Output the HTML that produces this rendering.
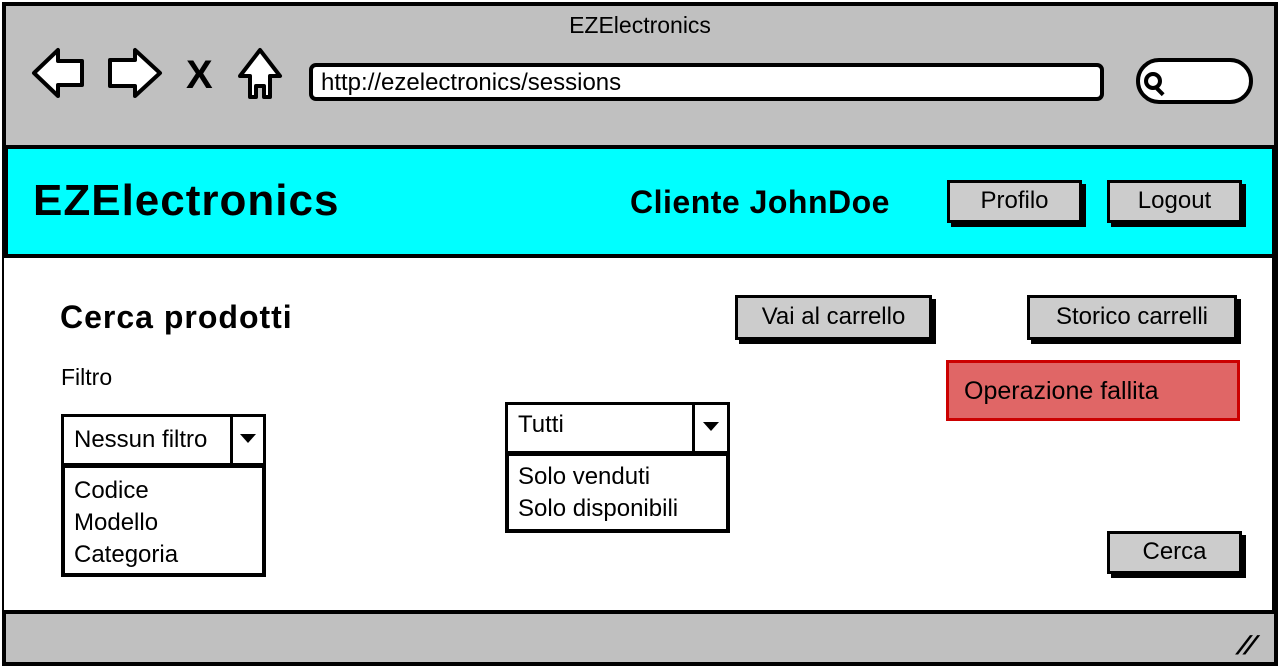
<!DOCTYPE html>
<html><head><meta charset="utf-8"><style>
*{box-sizing:border-box;margin:0;padding:0}
body{width:1280px;height:668px;background:#fff;position:relative;overflow:hidden;font-family:"Liberation Sans",sans-serif;color:#000}
.a{position:absolute}
.btn{position:absolute;background:#ccc;border:3px solid #000;box-shadow:4px 4px 0 #000;font-size:24px;text-align:center}
.box{position:absolute;border:3px solid #000;background:#fff}
</style></head><body>
<div class="a" style="left:2px;top:2px;width:1276px;height:664px;border:4px solid #000;background:#c0c0c0"></div>
<div class="a" style="left:0;top:12px;width:1280px;text-align:center;font-size:23px">EZElectronics</div>
<svg class="a" style="left:0;top:0" width="300" height="110">
<g fill="#fff" stroke="#000" stroke-width="4" stroke-linejoin="round">
<path d="M34,75 L58,52 L58,63 L82,63 L82,87 L58,87 L58,98 Z" transform="translate(0,-2)"/>
<path d="M160,75 L135,52 L135,62 L110,62 L110,88 L135,88 L135,98 Z" transform="translate(0,-2)"/>
<path d="M260,50 L280,76 L270,76 L270,97 L264,97 L264,86 L256,86 L256,97 L250,97 L250,76 L240,76 Z"/>
</g>
<text x="186" y="88" font-size="40" font-weight="bold" font-family="Liberation Sans">X</text>
</svg>
<div class="a" style="left:309px;top:63px;width:795px;height:38px;border:4px solid #000;border-radius:7px;background:#fff;font-size:24px;padding:2px 0 0 8px">http://ezelectronics/sessions</div>
<div class="a" style="left:1136px;top:58px;width:117px;height:46px;border:4px solid #000;border-radius:23px;background:#fff"></div>
<div class="a" style="left:1144px;top:72px;width:18px;height:18px;border:4px solid #000;border-radius:50%"></div>
<div class="a" style="left:1158px;top:87px;width:4px;height:9px;background:#000;transform:rotate(-45deg)"></div>
<div class="a" style="left:4px;top:145px;width:1272px;height:113px;background:#0ff;border:4px solid #000"></div>
<div class="a" style="left:33px;top:176px;font-size:44px;font-weight:bold;letter-spacing:1px">EZElectronics</div>
<div class="a" style="left:630px;top:184px;font-size:32px;font-weight:bold;letter-spacing:0.5px">Cliente JohnDoe</div>
<div class="btn" style="left:947px;top:180px;width:135px;height:43px;line-height:36px">Profilo</div>
<div class="btn" style="left:1107px;top:180px;width:135px;height:43px;line-height:36px">Logout</div>
<div class="a" style="left:4px;top:258px;width:1272px;height:354px;background:#fff;border-right:4px solid #000"></div>
<div class="a" style="left:4px;top:610px;width:1272px;height:4px;background:#000"></div>
<div class="a" style="left:60px;top:299px;font-size:32px;font-weight:bold;letter-spacing:1px">Cerca prodotti</div>
<div class="btn" style="left:735px;top:295px;width:197px;height:45px;line-height:38px">Vai al carrello</div>
<div class="btn" style="left:1027px;top:295px;width:210px;height:45px;line-height:38px">Storico carrelli</div>
<div class="a" style="left:946px;top:360px;width:294px;height:61px;background:#e06666;border:3px solid #c00;font-size:25px;padding:14px 0 0 15px">Operazione fallita</div>
<div class="a" style="left:61px;top:364px;font-size:23px">Filtro</div>
<div class="box" style="left:61px;top:414px;width:205px;height:52px;font-size:24px;padding:9px 0 0 10px">Nessun filtro</div>
<div class="a" style="left:230px;top:414px;width:3px;height:52px;background:#000"></div>
<div class="a" style="left:240px;top:434px;border-left:8px solid transparent;border-right:8px solid transparent;border-top:9px solid #000"></div>
<div class="box" style="left:61px;top:464px;width:205px;height:113px;border-width:4px;font-size:24px;line-height:32px;padding:7px 0 0 9px">Codice<br>Modello<br>Categoria</div>
<div class="box" style="left:505px;top:402px;width:225px;height:52px;font-size:24px;padding:6px 0 0 10px">Tutti</div>
<div class="a" style="left:692px;top:402px;width:3px;height:52px;background:#000"></div>
<div class="a" style="left:703px;top:422px;border-left:8px solid transparent;border-right:8px solid transparent;border-top:9px solid #000"></div>
<div class="box" style="left:505px;top:452px;width:225px;height:81px;border-width:4px;font-size:24px;line-height:32px;padding:5px 0 0 9px">Solo venduti<br>Solo disponibili</div>
<div class="btn" style="left:1107px;top:531px;width:135px;height:43px;line-height:36px">Cerca</div>
<div class="a" style="left:1240px;top:630px;font-size:26px;font-weight:bold;transform:skewX(-30deg)">//</div>
</body></html>
